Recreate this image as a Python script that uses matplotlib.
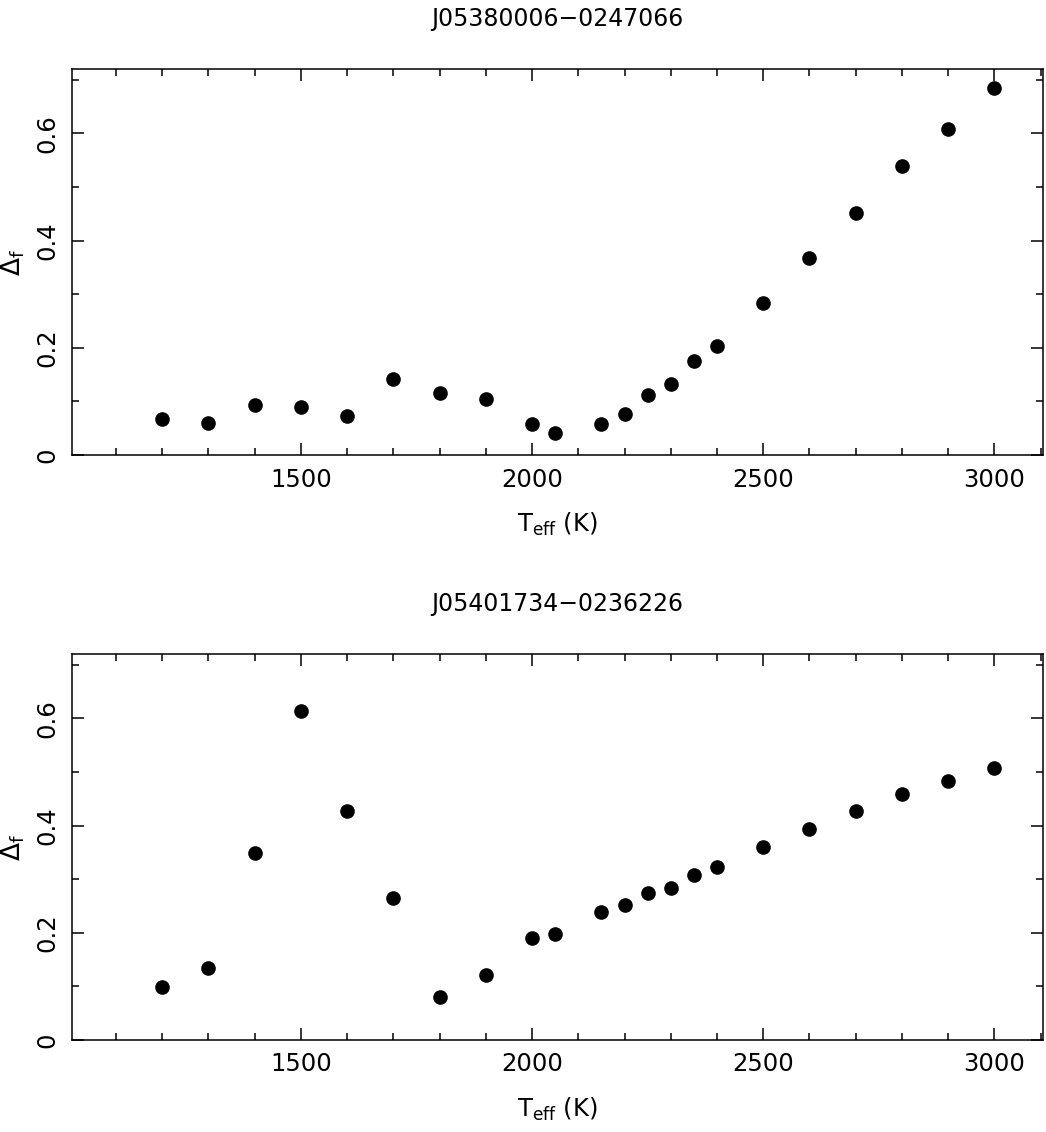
import numpy as np
import matplotlib
matplotlib.use('Agg')
import matplotlib.pyplot as plt
from matplotlib.ticker import MultipleLocator

# effective temperatures of the model grid
teff = [1200, 1300, 1400, 1500, 1600, 1700, 1800, 1900, 2000, 2050, 2150,
        2200, 2250, 2300, 2350, 2400, 2500, 2600, 2700, 2800, 2900, 3000]

# Delta_f for each object
delta_a = [0.068, 0.059, 0.093, 0.090, 0.072, 0.142, 0.115, 0.104, 0.058, 0.042, 0.058,
           0.077, 0.112, 0.133, 0.176, 0.204, 0.283, 0.367, 0.451, 0.539, 0.609, 0.685]
delta_b = [0.099, 0.135, 0.349, 0.614, 0.427, 0.265, 0.081, 0.121, 0.191, 0.198, 0.238,
           0.252, 0.275, 0.283, 0.307, 0.322, 0.359, 0.394, 0.428, 0.459, 0.483, 0.508]

names = ['J05380006\u22120247066', 'J05401734\u22120236226']

plt.rcParams['font.family'] = 'DejaVu Sans'
plt.rcParams['mathtext.fontset'] = 'dejavusans'
fig = plt.figure(figsize=(10.46, 11.32), dpi=100)

boxes = [[0.0688, 0.598, 0.9283, 0.341], [0.0688, 0.0813, 0.9283, 0.341]]
for box, name, vals in zip(boxes, names, [delta_a, delta_b]):
    ax = fig.add_axes(box)
    ax.plot(teff, vals, 'o', color='black', markersize=9.5)
    ax.set_xlim(1005, 3105)
    ax.set_ylim(0, 0.72)
    ax.xaxis.set_major_locator(MultipleLocator(500))
    ax.xaxis.set_minor_locator(MultipleLocator(100))
    ax.yaxis.set_major_locator(MultipleLocator(0.2))
    ax.yaxis.set_minor_locator(MultipleLocator(0.1))
    ax.yaxis.set_major_formatter(plt.FuncFormatter(lambda v, p: '0' if v == 0 else '%.1f' % v))
    ax.tick_params(which='both', direction='in', top=True, right=True, width=1.1, labelsize=17.5)
    ax.tick_params(which='major', length=8.5, pad=9)
    ax.tick_params(which='minor', length=4.8)
    for lab in ax.get_yticklabels():
        lab.set_rotation(90)
        lab.set_va('center')
    for s in ax.spines.values():
        s.set_linewidth(1.1)
    ax.set_title(name, fontsize=17, pad=31)
    ax.set_xlabel(r'T$_{\rm eff}$ (K)', fontsize=17.5, labelpad=14)
    ax.set_ylabel(r'$\Delta_{\rm f}$', fontsize=19, labelpad=6)

plt.savefig('out.png', dpi=100)
